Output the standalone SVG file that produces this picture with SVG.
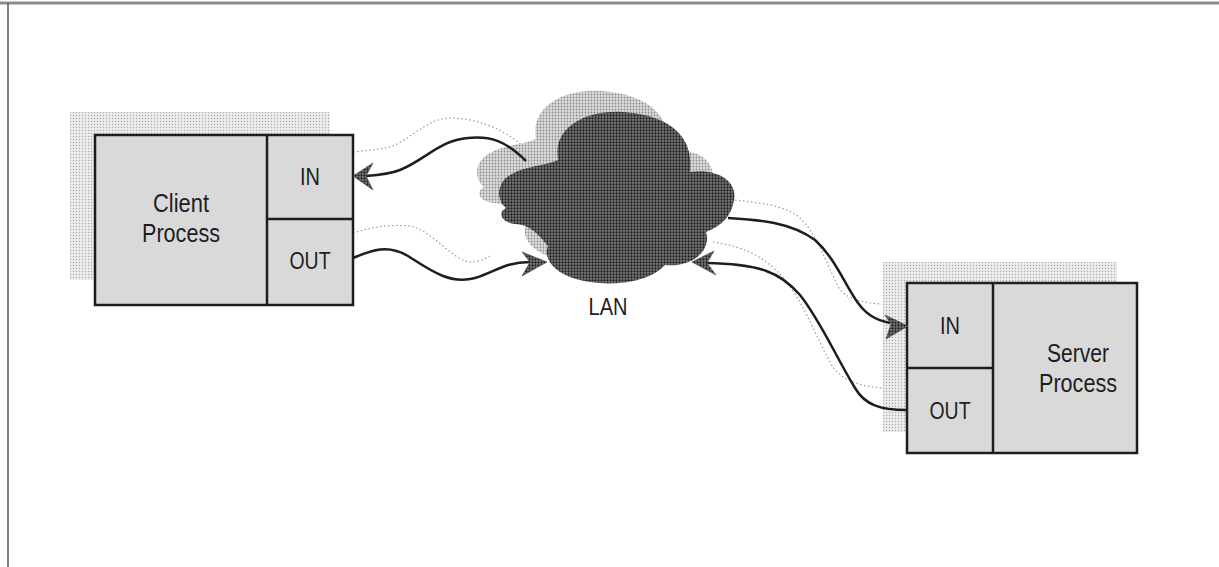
<svg xmlns="http://www.w3.org/2000/svg" width="1219" height="567" viewBox="0 0 1219 567">
<defs>
<pattern id="dark" width="3" height="3" patternUnits="userSpaceOnUse"><rect width="3" height="3" fill="#7c7c7c"/><circle cx="1.5" cy="1.5" r="1.15" fill="#1e1e1e"/></pattern>
<pattern id="light" width="3" height="3" patternUnits="userSpaceOnUse"><rect width="3" height="3" fill="#dcdcdc"/><circle cx="1.5" cy="1.5" r="0.9" fill="#8a8a8a"/></pattern>
<pattern id="pale" width="3" height="3" patternUnits="userSpaceOnUse"><rect width="3" height="3" fill="#ececec"/><circle cx="1.5" cy="1.5" r="0.7" fill="#a8a8a8"/></pattern>
<path id="cloud" d="M558,160 C552,128 585,110 622,112 C660,114 695,130 690,172 C715,168 738,180 734,200 C732,215 722,226 706,232 C712,252 690,268 665,265 C650,282 615,286 590,282 C560,278 542,262 548,246 C535,230 528,225 515,224 C500,222 498,212 506,208 C496,200 496,182 512,174 C525,166 545,166 558,160 Z"/>
</defs>
<style>
.box{fill:#d9d9d9;stroke:#1e1e1e;stroke-width:2.5}
.lbl{font-family:"Liberation Sans",Arial,sans-serif;fill:#1e1e1e;text-anchor:middle}
.t24{font-size:24px}
.t25{font-size:25px}
.con{fill:none;stroke:#1e1e1e;stroke-width:2.5}
.sh{fill:none;stroke:#9a9a9a;stroke-width:1.2;stroke-dasharray:1.5 2.5}
.ah{fill:url(#dark);stroke:#444;stroke-width:0.6}
</style>
<rect width="1219" height="567" fill="#ffffff"/>
<g id="frame">
<line x1="0" y1="3" x2="1219" y2="3" stroke="#8c8c8c" stroke-width="3"/>
<line x1="8" y1="3" x2="8" y2="567" stroke="#555" stroke-width="1.5"/>
</g>
<g id="shadows">
<rect x="70" y="112" width="260" height="168" fill="url(#pale)"/>
<rect x="883" y="262" width="234" height="170" fill="url(#pale)"/>
</g>
<g id="connector-shadows">
<path class="sh" d="M353,152 C370,150 385,149 395,145 C415,135 430,118 450,118 C475,118 505,128 527,150"/>
<path class="sh" d="M353,233 C370,228 385,224 410,226 C430,230 445,252 465,261 C475,264 482,260 490,256"/>
<path class="sh" d="M735,200 C760,203 785,205 800,218 C818,235 825,262 840,290 C850,300 865,303 882,304"/>
<path class="sh" d="M713,242 C740,246 765,255 785,280 C805,305 815,335 830,362 C838,378 855,386 883,388"/>
</g>
<g id="lan">
<use href="#cloud" transform="translate(-22,-21)" fill="url(#light)"/>
<use href="#cloud" fill="url(#dark)"/>
<text class="lbl t24" x="608" y="315" textLength="39" lengthAdjust="spacingAndGlyphs">LAN</text>
</g>
<g id="client">
<rect class="box" x="95" y="135" width="258" height="170"/>
<line class="box" x1="267" y1="135" x2="267" y2="305"/>
<line class="box" x1="267" y1="219" x2="353" y2="219"/>
<text class="lbl t25" x="181" y="212" textLength="56" lengthAdjust="spacingAndGlyphs">Client</text>
<text class="lbl t25" x="181" y="242" textLength="78" lengthAdjust="spacingAndGlyphs">Process</text>
<text class="lbl t24" x="310" y="185" textLength="20" lengthAdjust="spacingAndGlyphs">IN</text>
<text class="lbl t24" x="310" y="269" textLength="41" lengthAdjust="spacingAndGlyphs">OUT</text>
</g>
<g id="server">
<rect class="box" x="907" y="283" width="230" height="170"/>
<line class="box" x1="993" y1="283" x2="993" y2="453"/>
<line class="box" x1="907" y1="368" x2="993" y2="368"/>
<text class="lbl t25" x="1078" y="362" textLength="62" lengthAdjust="spacingAndGlyphs">Server</text>
<text class="lbl t25" x="1078" y="392" textLength="78" lengthAdjust="spacingAndGlyphs">Process</text>
<text class="lbl t24" x="950" y="334" textLength="20" lengthAdjust="spacingAndGlyphs">IN</text>
<text class="lbl t24" x="950" y="419" textLength="41" lengthAdjust="spacingAndGlyphs">OUT</text>
</g>
<g id="connectors">
<path class="con" d="M526,161 C505,140 490,136 468,138 C440,140 425,160 400,170 C390,174 380,175 366,176"/>
<polygon class="ah" points="353,176 373,163 366,176 373,190"/>
<path class="con" d="M353,258 C372,250 388,244 408,256 C430,270 450,285 475,278 C495,272 505,262 530,262"/>
<polygon class="ah" points="547,262 522,252 530,262 522,276"/>
<path class="con" d="M728,218 C760,220 790,222 815,240 C835,258 845,285 858,303 C866,314 875,320 890,323"/>
<polygon class="ah" points="908,326 885,315 891,324 886,339"/>
<path class="con" d="M907,410 C880,410 865,405 855,388 C835,355 820,320 800,295 C780,272 760,264 706,263"/>
<polygon class="ah" points="692,262 714,251 707,263 716,275"/>
</g>
</svg>
